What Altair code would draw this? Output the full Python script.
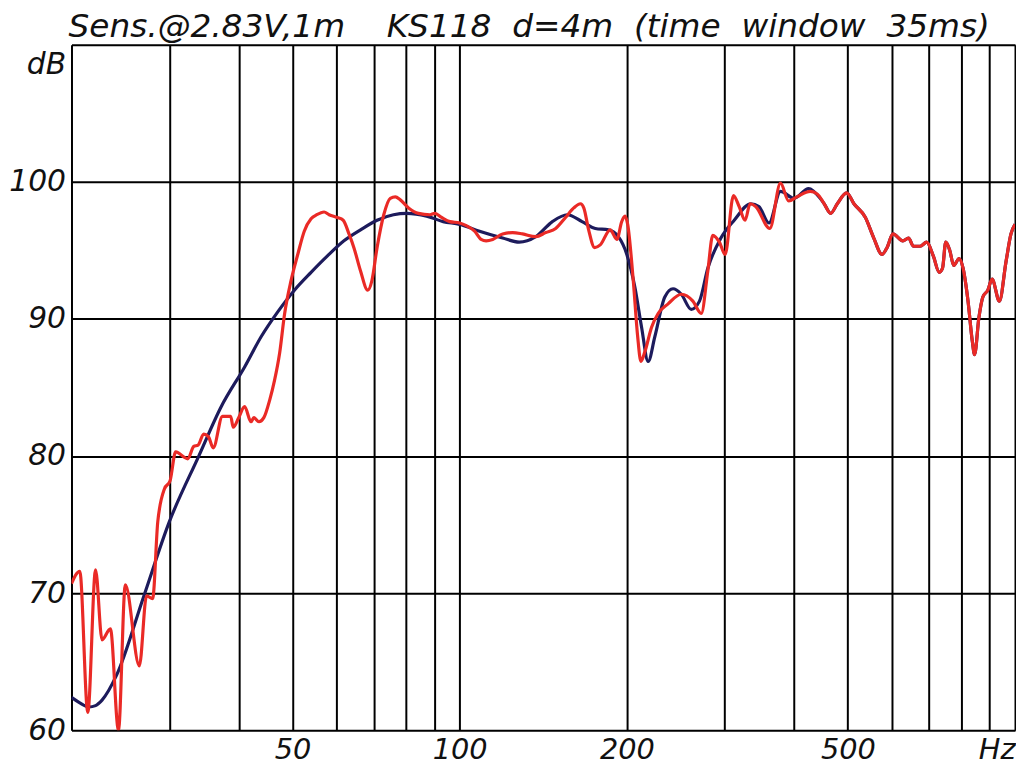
import altair as alt
import pandas as pd

# ---- data ----
red_low_freq = [20, 20.7, 21.4, 22.1, 22.7, 23.5, 24.3, 25.0, 26.5, 27.3, 28.0, 28.6, 29.4, 30.1, 30.8,
                32.4, 33.2, 33.8, 34.6, 35.3, 36.0, 37.4, 38.7, 39.1, 40.0, 41.0, 42.1, 42.6, 43.5, 44.4,
                45.5, 46.4, 47.4, 48.4, 49.7, 51.1, 52.5, 54.0, 55.3, 57.0, 58.2, 60.2, 61.7, 63.2, 64.5,
                66.3, 68.3, 69.5, 71.0, 73.0, 75.0, 76.6, 78.1, 80.9, 84.3, 88.4, 90.2, 92.8, 96.0, 100,
                102.8, 106.4, 109.3, 111.6, 114.7, 119.5, 124.6, 129.8, 137.1, 142.9, 148.9, 155.1, 160.5,
                165.0, 167.3, 170.7, 175.0, 179.1, 186.7, 191.9, 195.8, 198.5, 200.7, 205.4, 209.2, 212.0,
                215.5, 221.6, 227.7, 237.3, 250.7, 263.0, 272.3, 279.8, 285.6, 293.6, 300.6, 311.2, 318.6,
                326.6, 333.4, 341.2, 361.8, 378.2, 391.3, 404.8, 427.8, 440.8]
red_low_db = [70.7, 71.6, 61.3, 71.7, 66.6, 67.4, 60.0, 70.6, 64.7, 69.8, 69.6, 75.2, 77.6, 78.2, 80.3,
              79.8, 80.7, 80.8, 81.6, 81.4, 80.6, 82.9, 82.9, 82.1, 82.8, 83.6, 82.5, 82.8, 82.5, 82.8,
              84.1, 85.5, 87.5, 90.4, 92.8, 94.7, 96.4, 97.3, 97.6, 97.8, 97.6, 97.4, 97.2, 96.2, 95.2,
              93.5, 92.1, 92.8, 95.2, 97.6, 98.8, 98.9, 98.7, 98.1, 97.7, 97.6, 97.7, 97.4, 97.1, 97.0,
              96.8, 96.4, 95.8, 95.7, 95.8, 96.2, 96.3, 96.2, 96.0, 96.3, 96.6, 97.4, 98.1,
              98.4, 98.1, 96.5, 95.2, 95.4, 96.5, 95.8, 97.1, 97.5, 96.9, 92.8, 88.7, 86.9,
              87.6, 89.4, 90.4, 91.1, 91.8, 91.3, 90.4, 93.5, 96.1, 95.6, 94.7, 99.0, 98.2,
              97.2, 98.4, 98.2, 96.6, 99.9, 98.6, 98.9, 99.3, 99.1]

navy_low_freq = [20, 20.7, 21.5, 22.1, 22.7, 24.1, 27.0, 30.0, 33.9, 37.2, 41.0, 43.9, 47.0, 50.4,
                 54.0, 57.8, 61.9, 66.3, 71.0, 76.0, 80.3, 87.2, 93.4, 100, 108.6, 119.5, 128.0, 137.1,
                 146.9, 156.2, 166.1, 175.5, 185.3, 193.1, 200, 206.8, 212.6, 218.5, 224.6, 234.1, 242.2,
                 250.7, 261.2, 270.3, 279.8, 295.4, 312.2, 334.4, 345.8, 360.6, 378.2, 400, 425.0, 445.8]
navy_low_db = [62.4, 62.0, 61.7, 61.8, 62.2, 64.0, 69.8, 75.2, 80.0, 83.6, 86.5, 88.7, 90.5, 92.1,
               93.4, 94.6, 95.7, 96.5, 97.2, 97.6, 97.7, 97.5, 97.1, 96.9, 96.4, 95.9, 95.6, 96.0,
               97.1, 97.6, 97.1, 96.6, 96.5, 96.0, 94.7, 92.3, 89.4, 86.9, 88.7, 91.6, 92.2,
               91.8, 90.7, 91.3, 93.7, 95.9, 97.2, 98.4, 98.2, 97.0, 99.3, 98.8, 99.5, 98.8]

# above ~450 Hz both curves coincide
high_freq = [453.3, 465.6, 478.6, 497.5, 512.8, 537.8, 556.8, 576.2, 588.2, 602.8, 628.2, 643.0, 656.4,
             674.6, 693.4, 712.6, 730.4, 740.4, 750.4, 763.0, 775.6, 793.2, 806.2, 823.0, 837.6, 845.6,
             861.0, 875.2, 893.4, 909.4, 937.2, 963.6, 983.4, 1000]
high_db = [98.4, 97.7, 98.4, 99.2, 98.4, 97.4, 95.9, 94.7, 95.2, 96.2, 95.7, 95.9, 95.3,
           95.3, 95.6, 94.6, 93.4, 93.7, 95.6, 95.0, 93.9, 94.4, 93.7, 91.3, 88.4, 87.4,
           90.1, 91.6, 92.1, 92.9, 91.3, 94.2, 96.2, 96.9]

grid_freqs = [20, 30, 40, 50, 60, 70, 80, 90, 100, 200, 300, 400, 500, 600, 700, 800, 900, 1000]
grid_db = [60, 70, 80, 90, 100, 110]

TITLE = "Sens.@2.83V,1m\u00a0\u00a0\u00a0 KS118\u00a0 d=4m\u00a0 (time\u00a0 window\u00a0 35ms)"
RED = "#ea2a26"
NAVY = "#1d1b5c"
FONT = "DejaVu Sans"

navy_df = pd.DataFrame({"f": navy_low_freq + high_freq, "db": navy_low_db + high_db})
red_df = pd.DataFrame({"f": red_low_freq + high_freq, "db": red_low_db + high_db})

x_enc = alt.X(
    "f:Q",
    scale=alt.Scale(type="log", domain=[20, 1000], nice=False),
    axis=alt.Axis(
        values=grid_freqs,
        format="d",
        labelExpr="datum.value == 1000 ? 'Hz' : ((datum.value == 50 || datum.value == 100 || datum.value == 200 || datum.value == 500) ? datum.label : '')",
        title=None,
        grid=True, gridColor="black", gridWidth=2, gridOpacity=1,
        domain=False, ticks=False,
        labelFont=FONT, labelFontSize=29, labelFontStyle="italic", labelColor="#111111",
        labelPadding=5, labelFlush=True, labelOverlap=False, labelBound=False,
    ),
)
y_enc = alt.Y(
    "db:Q",
    scale=alt.Scale(domain=[60, 110], nice=False, zero=False),
    axis=alt.Axis(
        values=grid_db,
        labelExpr="datum.value == 110 ? 'dB' : datum.label",
        labelOffset={"condition": {"test": "datum.value == 110", "value": 20}, "value": 0},
        title=None,
        grid=True, gridColor="black", gridWidth=2, gridOpacity=1,
        domain=False, ticks=False,
        labelFont=FONT, labelFontSize=30, labelFontStyle="italic", labelColor="#111111",
        labelPadding=6, labelOverlap=False, labelBound=False, labelFlush=False,
    ),
)

navy_line = alt.Chart(navy_df).mark_line(
    color=NAVY, strokeWidth=3.2, clip=True, interpolate="monotone"
).encode(x=x_enc, y=y_enc)
red_line = alt.Chart(red_df).mark_line(
    color=RED, strokeWidth=3.2, clip=True, interpolate="monotone"
).encode(x="f:Q", y="db:Q")

chart = (
    alt.layer(navy_line, red_line)
    .properties(
        width=951,
        height=691,
        autosize=alt.AutoSizeParams(type="none"),
        padding={"left": 64, "top": 34, "right": 1, "bottom": 35},
        title=alt.TitleParams(
            text=TITLE, anchor="start", frame="group", font=FONT, fontSize=33, fontStyle="italic",
            fontWeight="normal", color="#111111", offset=0, baseline="bottom", dx=-3, dy=32,
        ),
    )
    .configure_view(stroke="black", strokeWidth=2.5)
    .configure(background="white")
)

chart.save("out.html", embed_options={"renderer": "svg", "actions": False})
